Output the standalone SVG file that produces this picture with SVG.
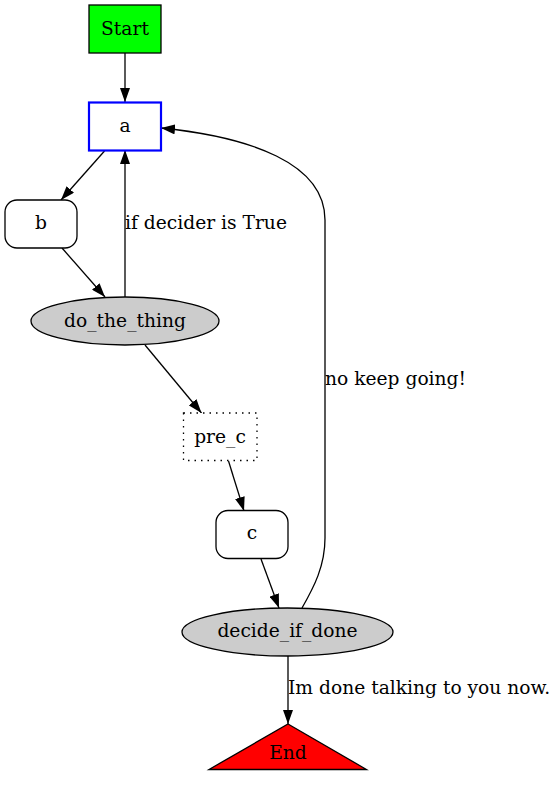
<svg xmlns="http://www.w3.org/2000/svg" width="557" height="791" viewBox="0 0 557 791">
<style>
text{font-family:"DejaVu Serif","Liberation Serif",serif;font-size:18.67px;fill:#000}
.n{text-anchor:middle}
.e{fill:none;stroke:#000;stroke-width:1.3}
.shape{stroke:#000;stroke-width:1.3}
</style>
<defs>
<marker id="ah" markerUnits="userSpaceOnUse" markerWidth="14" markerHeight="10" refX="14" refY="5" orient="auto" viewBox="0 0 14 10">
<path d="M0,0 L14,5 L0,10 Z" fill="#000"/>
</marker>
</defs>
<rect width="557" height="791" fill="#fff"/>
<g id="edges">
<path class="e" d="M125,53 L125,102" marker-end="url(#ah)"/>
<path class="e" d="M104.5,151 L61,200" marker-end="url(#ah)"/>
<path class="e" d="M62,248 L105,297" marker-end="url(#ah)"/>
<path class="e" d="M125,297 L125,150" marker-end="url(#ah)"/>
<text x="125" y="229">if decider is True</text>
<path class="e" d="M145,345 L201.5,413" marker-end="url(#ah)"/>
<path class="e" d="M228.5,461 L244,511" marker-end="url(#ah)"/>
<path class="e" d="M261,559 L279,608" marker-end="url(#ah)"/>
<path class="e" d="M302,608 C314,587 325,566 325,538 L325,220 C325,163 250,137 161,128" marker-end="url(#ah)"/>
<text x="325" y="385">no keep going!</text>
<path class="e" d="M288,656 L288,724" marker-end="url(#ah)"/>
<text x="288" y="694">Im done talking to you now.</text>
</g>
<g id="Start">
<rect class="shape" x="89" y="5" width="72" height="48" fill="#00ff00"/>
<text class="n" x="125" y="34.5">Start</text>
</g>
<g id="a">
<rect x="89" y="102.5" width="72" height="48" fill="#fff" stroke="#0000ff" stroke-width="2.2"/>
<text class="n" x="125" y="131.5">a</text>
</g>
<g id="b">
<rect class="shape" x="5" y="200" width="72" height="48" rx="12" fill="#fff"/>
<text class="n" x="41" y="229">b</text>
</g>
<g id="do_the_thing">
<ellipse class="shape" cx="125" cy="321" rx="94" ry="24" fill="#cccccc"/>
<text class="n" x="125" y="326.5">do_the_thing</text>
</g>
<g id="pre_c">
<rect x="183.5" y="413" width="73.5" height="47.5" fill="#fff" stroke="#000" stroke-width="1.3" stroke-dasharray="1.5,5"/>
<text class="n" x="220" y="442.5">pre_c</text>
</g>
<g id="c">
<rect class="shape" x="216" y="510.5" width="72" height="48" rx="12" fill="#fff"/>
<text class="n" x="252" y="539">c</text>
</g>
<g id="decide_if_done">
<ellipse class="shape" cx="287.5" cy="632" rx="105.5" ry="24" fill="#cccccc"/>
<text class="n" x="287.5" y="637">decide_if_done</text>
</g>
<g id="End">
<polygon class="shape" points="288,724 366.5,769.5 209,769.5" fill="#ff0000"/>
<text class="n" x="288" y="759">End</text>
</g>
</svg>
